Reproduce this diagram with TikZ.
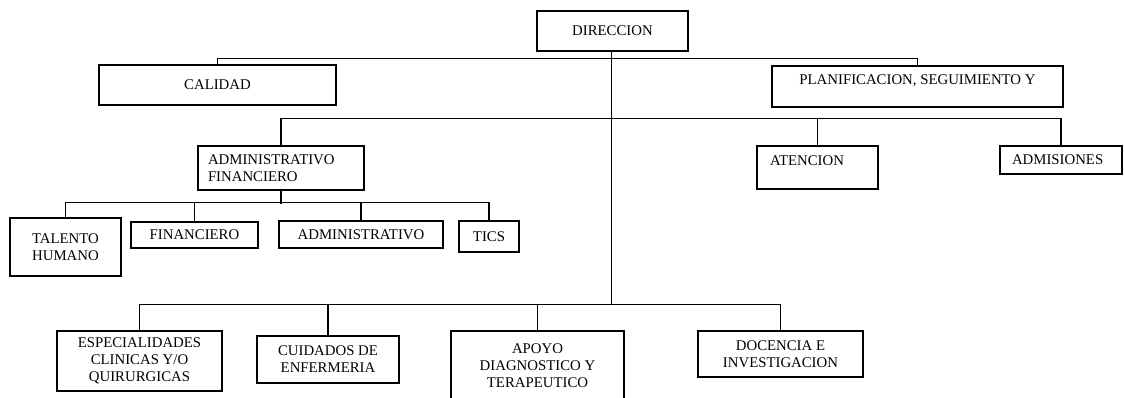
\documentclass[tikz,border=0pt]{standalone}
\usepackage{fontspec}
\setmainfont{Liberation Serif}
\usetikzlibrary{calc}

\begin{document}
\begin{tikzpicture}[x = 1pt, y = -1pt]
				    \tikzstyle{unit}=[draw,line width = 1.1pt,inner sep = 0pt,align=center,font=\fontsize{14.8}{17}\selectfont]
				    \tikzstyle{edge}=[draw,line width = 1.1pt,-,black!100]
				    \tikzstyle{trunk}=[draw,line width = 1.6pt,-,black!100]
				    \useasboundingbox (0,0) rectangle (1125,397);
				    \node[unit,minimum width = 151pt,minimum height = 40pt] (dir) at (612.5,31) {DIRECCION};
				    \node[unit,minimum width = 237pt,minimum height = 40pt] (cal) at (217.5,85) {CALIDAD};
				    \node[unit,minimum width = 291pt,minimum height = 41pt] (plan) at (917.5,86.5) {PLANIFICACION, SEGUIMIENTO Y\\[-8pt]\strut};
				    \node[unit,minimum width = 166pt,minimum height = 44pt,text width = 146pt,align=left] (adm) at (281,168) {ADMINISTRATIVO\\FINANCIERO};
				    \node[unit,minimum width = 121pt,minimum height = 43pt,text width = 95pt,align=left] (aten) at (817.5,167.5) {ATENCION\\[-8pt]\strut};
				    \node[unit,minimum width = 122pt,minimum height = 28pt,text width = 98pt,align=left] (admis) at (1061,160) {ADMISIONES};
				    \node[unit,minimum width = 111pt,minimum height = 58pt] (tal) at (65.5,247) {TALENTO\\HUMANO};
				    \node[unit,minimum width = 127pt,minimum height = 26pt] (fin) at (194.5,235) {FINANCIERO};
				    \node[unit,minimum width = 164pt,minimum height = 27pt] (admv) at (361,234.5) {ADMINISTRATIVO};
				    \node[unit,minimum width = 60pt,minimum height = 31pt] (tics) at (489,236.5) {TICS};
				    \node[unit,minimum width = 165pt,minimum height = 60pt] (esp) at (139.5,361) {ESPECIALIDADES\\CLINICAS Y/O\\QUIRURGICAS};
				    \node[unit,minimum width = 142pt,minimum height = 47pt] (cui) at (328,359.5) {CUIDADOS DE\\ENFERMERIA};
				    \node[unit,minimum width = 173pt,minimum height = 70pt] (apo) at (537.5,366) {APOYO\\DIAGNOSTICO Y\\TERAPEUTICO};
				    \node[unit,minimum width = 165pt,minimum height = 46pt] (doc) at (780.5,354) {DOCENCIA E\\INVESTIGACION};
				    \coordinate (base) at (611.5,305);
				    \draw[trunk] (dir.south -| base) -- (base);
				    \draw[edge] (cal.north) -- ++(0,-6) -| (plan.north);
				    \draw[trunk] (adm.north) -- ++(0,-27) -| (aten.north);
				    \draw[edge] (aten.north) -- ++(0,-27) -| (admis.north);
				    \draw[edge] (adm.south) -- ++(0,13);
				    \draw[edge] (tal.north) -- ++(0,-15) -| (tics.north);
				    \draw[edge] (fin.north) -- ++(0,-19);
				    \draw[edge] (admv.north) -- ++(0,-18);
				    \draw[edge] (esp.north) -- ++(0,-26) -| (doc.north);
				    \draw[edge] (cui.north) -- ++(0,-31);
				    \draw[edge] (apo.north) -- ++(0,-26);
				\end{tikzpicture}
\end{document}
